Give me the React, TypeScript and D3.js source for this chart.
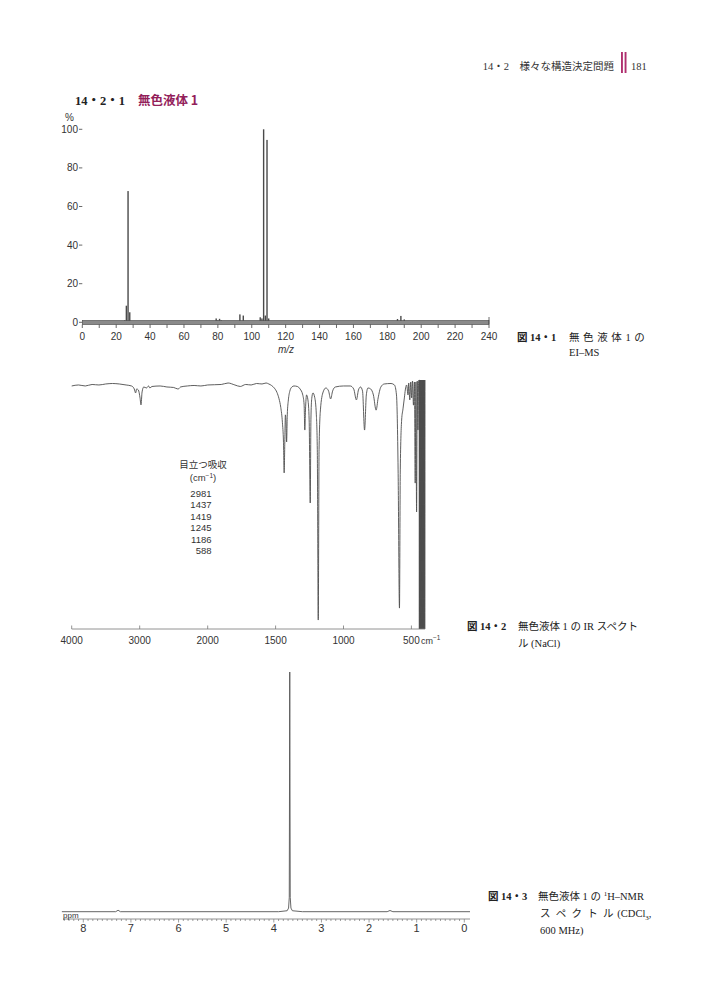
import React, { useEffect, useRef } from "react";
import * as d3 from "d3";

// EI-MS peaks (m/z, relative intensity %)
const msMz = [25, 26, 27, 28, 79, 80, 81, 82, 93, 95, 105, 106, 107, 108, 109, 110, 186, 188, 190];
const msIntensity = [1, 8.6, 68, 5.2, 2, 1, 1.8, 1, 4.1, 3.5, 2.6, 2, 100, 3.5, 94.5, 2, 1.7, 3.3, 1.5];
const msYTicks = [0, 20, 40, 60, 80, 100];

// IR spectrum (wavenumber cm-1, transmittance %)
const irWavenumber = [
  4000, 3900, 3800, 3700, 3600, 3500, 3400, 3300, 3200, 3120, 3080, 3060, 3045, 3020, 2995, 2981,
  2965, 2940, 2900, 2870, 2850, 2820, 2700, 2600, 2500, 2440, 2420, 2400, 2300, 2200, 2100, 2000,
  1900, 1850, 1800, 1760, 1720, 1680, 1640, 1600, 1570, 1550, 1530, 1510, 1490, 1475, 1462, 1450,
  1442, 1437, 1432, 1428, 1424, 1419, 1414, 1406, 1395, 1380, 1365, 1340, 1320, 1300, 1290, 1285,
  1280, 1272, 1262, 1253, 1245, 1240, 1234, 1225, 1212, 1200, 1193, 1186, 1180, 1170, 1150, 1130,
  1110, 1095, 1080, 1060, 1000, 950, 925, 905, 890, 875, 860, 845, 832, 820, 800, 780,
  760, 745, 725, 700, 650, 625, 610, 598, 588, 582, 572, 562, 552, 545, 535, 525,
  520, 512, 505, 498, 492, 485, 478, 472, 467, 462, 457, 452, 447, 443, 441.5, 440,
  438, 436, 434, 432, 430, 428, 426, 424, 422, 420, 418, 416, 414, 412, 410, 408,
  406, 404, 402, 400,
];
const irTransmittance = [
  97.6, 98.0, 97.6, 98.2, 98.0, 98.4, 98.6, 98.4, 98.0, 97.6, 96.4, 94.8, 96.4, 96.0, 92.8, 90.0,
  95.2, 97.2, 96.8, 97.6, 96.8, 97.4, 97.6, 97.2, 97.0, 96.4, 96.6, 97.2, 97.6, 97.8, 97.6, 98.0,
  98.2, 98.8, 98.0, 97.4, 98.2, 98.0, 98.6, 98.4, 98.8, 98.4, 97.8, 96.8, 95.0, 92.5, 89.0, 83.0,
  75.0, 62.7, 76.0, 86.0, 84.0, 75.1, 86.0, 92.0, 95.6, 97.2, 97.6, 97.4, 96.4, 94.0, 90.0, 79.9,
  88.0, 94.0, 92.0, 84.0, 50.6, 84.0, 92.5, 94.8, 93.0, 86.0, 72.0, 3.6, 72.0, 88.0, 95.2, 96.8,
  95.6, 92.4, 95.6, 97.2, 97.6, 97.6, 96.4, 92.0, 96.0, 97.2, 95.6, 79.9, 94.0, 96.8, 96.4, 94.0,
  87.9, 92.8, 97.2, 98.4, 98.6, 98.0, 94.0, 63.9, 8.4, 63.9, 83.9, 88.4, 92.8, 96.0, 98.0, 94.0,
  98.8, 92.0, 99.2, 92.8, 99.6, 89.9, 99.2, 58.6, 99.2, 47.0, 99.6, 79.9, 99.6, 100, 0, 100,
  0, 100, 0, 100, 0, 100, 0, 100, 0, 100, 0, 100, 0, 100, 0, 100,
  0, 100, 0, 100,
];
const irTicks = [4000, 3000, 2000, 1500, 1000, 500];
const irBands = ["2981", "1437", "1419", "1245", "1186", "588"];

// 1H-NMR (ppm, relative intensity)
const nmrPpm = [8.45, 7.32, 7.27, 7.22, 3.9, 3.72, 3.69, 3.675, 3.665, 3.655, 3.64, 3.61, 3.4, 1.62, 1.56, 1.5, -0.12];
const nmrIntensity = [0, 0, 0.6, 0, 0, 0.4, 1.5, 6, 100, 6, 1.5, 0.4, 0, 0, 0.5, 0, 0];
const nmrTicks = [8, 7, 6, 5, 4, 3, 2, 1, 0];

const SANS = "'Liberation Sans', Arial, sans-serif";
const SERIF = "'Liberation Serif', 'Noto Sans CJK JP', serif";
const GOTHIC = "'Noto Sans CJK JP', sans-serif";
const MAGENTA = "#93205a";

export default function App() {
  const svgRef = useRef<SVGSVGElement | null>(null);

  useEffect(() => {
    if (!svgRef.current) return;
    const svg = d3.select(svgRef.current);
    svg.selectAll("*").remove();

    svg.append("rect").attr("width", 708).attr("height", 1000).attr("fill", "#fff");

    // page header
    svg.append("text").attr("x", 614).attr("y", 70).attr("text-anchor", "end")
      .style("font-family", SERIF).style("font-size", "10.5px").attr("fill", "#333")
      .text("14・2　様々な構造決定問題");
    [621, 624.6].forEach((x) =>
      svg.append("rect").attr("x", x).attr("y", 52).attr("width", 1.9).attr("height", 21).attr("fill", "#b0306f")
    );
    svg.append("text").attr("x", 631).attr("y", 70)
      .style("font-family", SERIF).style("font-size", "10.5px").attr("fill", "#333").text("181");

    // section title
    svg.append("text").attr("x", 75).attr("y", 105)
      .style("font-family", SERIF).style("font-size", "12.5px").style("font-weight", "bold").attr("fill", "#222")
      .text("14・2・1");
    svg.append("text").attr("x", 138).attr("y", 105)
      .style("font-family", GOTHIC).style("font-size", "12.5px").style("font-weight", "bold").attr("fill", MAGENTA)
      .text("無色液体 1");

    // ---------- EI-MS ----------
    const msX = d3.scaleLinear().domain([0, 240]).range([82.3, 489]);
    const msY = d3.scaleLinear().domain([0, 100]).range([322.3, 129.3]);
    const ms = svg.append("g").style("font-family", SANS).style("font-size", "10px");

    ms.append("text").attr("x", 65).attr("y", 121).attr("fill", "#333").text("%");
    msYTicks.forEach((t) => {
      ms.append("line").attr("x1", 79).attr("x2", msX(0)).attr("y1", msY(t)).attr("y2", msY(t))
        .attr("stroke", "#444").attr("stroke-width", 0.8);
      ms.append("text").attr("x", 78).attr("y", msY(t)).attr("dy", "0.35em").attr("text-anchor", "end")
        .attr("fill", "#333").text(t);
    });

    ms.selectAll(".bar").data(msMz).enter().append("rect").attr("class", "bar")
      .attr("x", (d) => msX(d) - 0.7)
      .attr("y", (_, i) => msY(msIntensity[i]))
      .attr("width", 1.4)
      .attr("height", (_, i) => msY(0) - msY(msIntensity[i]))
      .attr("fill", "#4a4a4a");

    ms.append("rect").attr("x", msX(0)).attr("y", 320.5).attr("width", msX(240) - msX(0)).attr("height", 4)
      .attr("fill", "#8a8a8a").attr("stroke", "#444").attr("stroke-width", 0.6);
    ms.append("line").attr("x1", msX(240)).attr("x2", msX(240)).attr("y1", 317).attr("y2", 324.5)
      .attr("stroke", "#444").attr("stroke-width", 0.8);

    d3.range(0, 241, 10).forEach((t) => {
      ms.append("line").attr("x1", msX(t)).attr("x2", msX(t)).attr("y1", 324.5).attr("y2", 328)
        .attr("stroke", "#444").attr("stroke-width", 0.8);
      if (t % 20 === 0)
        ms.append("text").attr("x", msX(t)).attr("y", 339.5).attr("text-anchor", "middle")
          .attr("fill", "#333").text(t);
    });
    ms.append("text").attr("x", 286).attr("y", 353).attr("text-anchor", "middle")
      .style("font-style", "italic").attr("fill", "#333").text("m/z");

    // ---------- IR ----------
    const irX = d3.scaleLinear().domain([4000, 2000, 400]).range([71.7, 207.7, 425]);
    const irY = d3.scaleLinear().domain([0, 100]).range([629, 380]);
    const ir = svg.append("g").style("font-family", SANS).style("font-size", "10px");

    const irLine = d3.line<number>()
      .x((d) => irX(d))
      .y((_, i) => irY(irTransmittance[i]))
      .curve(d3.curveMonotoneX);
    ir.append("path").datum(irWavenumber).attr("d", irLine)
      .attr("fill", "none").attr("stroke", "#4d4d4d").attr("stroke-width", 0.9);

    ir.append("line").attr("x1", irX(4000)).attr("x2", irX(400)).attr("y1", 629).attr("y2", 629)
      .attr("stroke", "#777").attr("stroke-width", 0.8);
    irTicks.forEach((t) => {
      ir.append("line").attr("x1", irX(t)).attr("x2", irX(t)).attr("y1", 629).attr("y2", 625.5)
        .attr("stroke", "#777").attr("stroke-width", 0.8);
      ir.append("text").attr("x", irX(t)).attr("y", 644).attr("text-anchor", "middle")
        .attr("fill", "#333").text(t);
    });
    const cm = ir.append("text").attr("x", 421).attr("y", 644).attr("fill", "#333").style("font-size", "9px");
    cm.append("tspan").text("cm");
    cm.append("tspan").attr("dy", -4).style("font-size", "6.5px").text("−1");

    const note = svg.append("g").attr("fill", "#333");
    note.append("text").attr("x", 203).attr("y", 468).attr("text-anchor", "middle")
      .style("font-family", GOTHIC).style("font-size", "9.5px").text("目立つ吸収");
    const unit = note.append("text").attr("x", 203).attr("y", 481).attr("text-anchor", "middle")
      .style("font-family", SANS).style("font-size", "9.5px");
    unit.append("tspan").text("(cm");
    unit.append("tspan").attr("dy", -3.5).style("font-size", "6.5px").text("−1");
    unit.append("tspan").attr("dy", 3.5).text(")");
    irBands.forEach((b, i) =>
      note.append("text").attr("x", 211.5).attr("y", 497 + i * 11.4).attr("text-anchor", "end")
        .style("font-family", SANS).style("font-size", "9.5px").text(b)
    );

    // ---------- 1H-NMR ----------
    const nmrX = d3.scaleLinear().domain([8, 0]).range([83.3, 464.3]);
    const nmrY = d3.scaleLinear().domain([0, 100]).range([911.7, 672]);
    const nmr = svg.append("g").style("font-family", SANS);

    const nmrLine = d3.line<number>()
      .x((d) => nmrX(d))
      .y((_, i) => nmrY(nmrIntensity[i]));
    nmr.append("path").datum(nmrPpm).attr("d", nmrLine)
      .attr("fill", "none").attr("stroke", "#555").attr("stroke-width", 0.9);

    nmr.append("line").attr("x1", 63).attr("x2", 470).attr("y1", 919).attr("y2", 919)
      .attr("stroke", "#777").attr("stroke-width", 0.8);
    d3.range(0, 85).forEach((k) => {
      const p = k / 10;
      const major = k % 10 === 0;
      nmr.append("line").attr("x1", nmrX(p)).attr("x2", nmrX(p)).attr("y1", 919).attr("y2", major ? 922.5 : 921)
        .attr("stroke", "#777").attr("stroke-width", 0.7);
    });
    nmrTicks.forEach((t) =>
      nmr.append("text").attr("x", nmrX(t)).attr("y", 932).attr("text-anchor", "middle")
        .style("font-size", "11px").attr("fill", "#333").text(t)
    );
    nmr.append("text").attr("x", 63).attr("y", 917.5).style("font-size", "8px").attr("fill", "#333").text("ppm");

    // ---------- captions ----------
    const cap = svg.append("g").style("font-family", SERIF).style("font-size", "10.5px").attr("fill", "#222");
    const capLine = (x: number, y: number, s: string, bold = false, spacing = 0) =>
      cap.append("text").attr("x", x).attr("y", y)
        .style("font-weight", bold ? "bold" : "normal")
        .style("letter-spacing", `${spacing}px`).text(s);

    capLine(517, 340.5, "図 14・1", true);
    capLine(569, 340.5, "無 色 液 体 1 の", false, 0.5);
    capLine(569, 356, "EI–MS");

    capLine(467, 630, "図 14・2", true);
    capLine(518, 630, "無色液体 1 の IR スペクト");
    capLine(518, 646.5, "ル (NaCl)");

    capLine(488, 900, "図 14・3", true);
    const c3 = capLine(538, 900, "無色液体 1 の ");
    c3.append("tspan").attr("dy", -4).style("font-size", "7px").text("1");
    c3.append("tspan").attr("dy", 4).text("H–NMR");
    const c3b = capLine(540, 917, "ス ペ ク ト ル", false, 1.3);
    c3b.append("tspan").style("letter-spacing", "0px").text(" (CDCl");
    c3b.append("tspan").style("letter-spacing", "0px").attr("dy", 2.5).style("font-size", "7px").text("3");
    c3b.append("tspan").style("letter-spacing", "0px").attr("dy", -2.5).text(",");
    capLine(540, 933.5, "600 MHz)");
  }, []);

  return (
    <svg
      ref={svgRef}
      width={708}
      height={1000}
      style={{ position: "absolute", left: 0, top: 0, background: "#fff" }}
    />
  );
}
